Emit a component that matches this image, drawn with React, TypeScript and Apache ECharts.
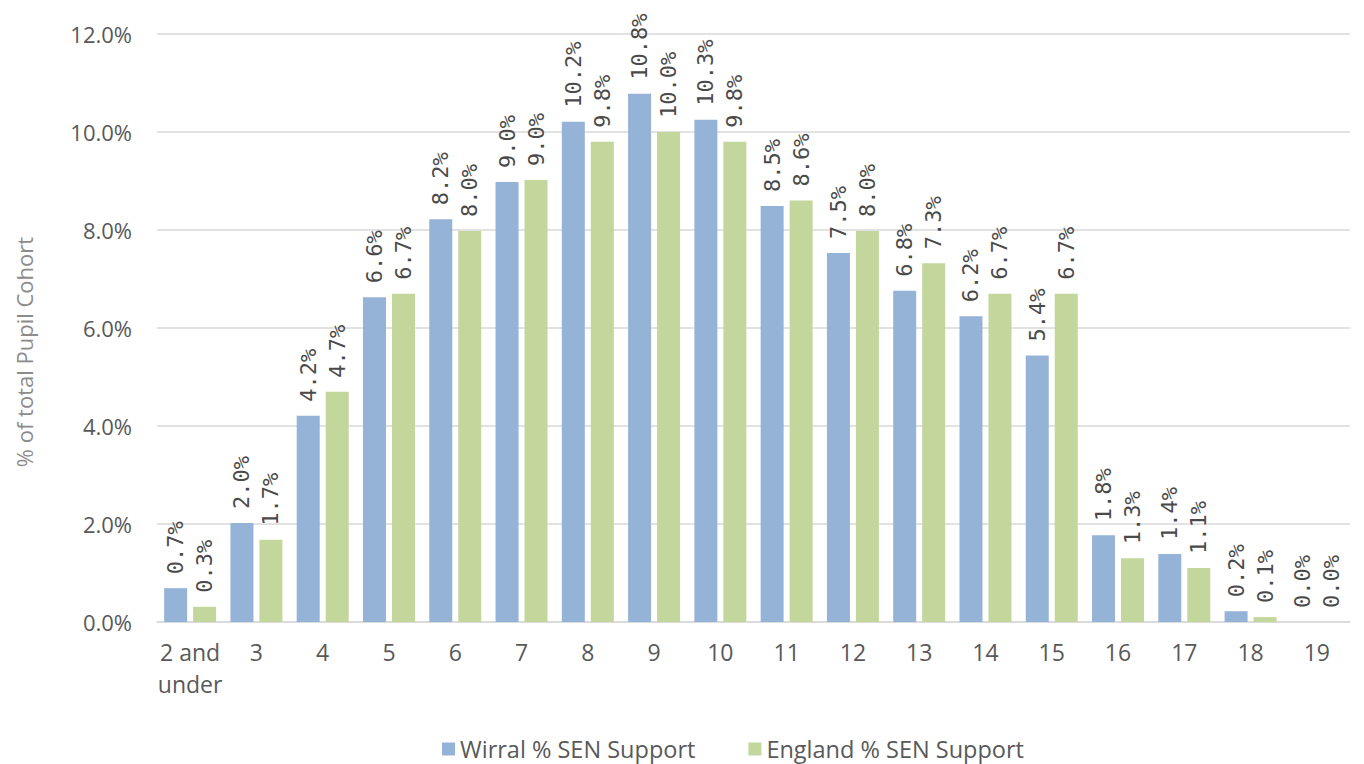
import React, { useEffect, useRef } from "react";
import * as echarts from "echarts";

const categories = ["2 and under", "3", "4", "5", "6", "7", "8", "9", "10", "11", "12", "13", "14", "15", "16", "17", "18", "19"];
const wirral = [0.69, 2.02, 4.21, 6.63, 8.22, 8.98, 10.21, 10.78, 10.25, 8.49, 7.53, 6.76, 6.24, 5.44, 1.77, 1.39, 0.22, 0.0];
const england = [0.31, 1.68, 4.7, 6.7, 7.98, 9.02, 9.8, 10.0, 9.8, 8.6, 7.98, 7.32, 6.7, 6.7, 1.3, 1.1, 0.1, 0.0];
const seriesNames = ["Wirral % SEN Support", "England % SEN Support"];
const yAxisTitle = "% of total Pupil Cohort";

const FONT = "'Open Sans', 'Noto Sans', sans-serif";
const MONO = "'DejaVu Sans Mono', monospace";

export default function App() {
  const ref = useRef<HTMLDivElement>(null);
  useEffect(() => {
    if (!ref.current) return;
    const chart = echarts.init(ref.current, undefined, { renderer: "svg" });
    const label = {
      show: true,
      position: "top",
      rotate: 90,
      align: "left",
      verticalAlign: "middle",
      distance: 14,
      fontFamily: MONO,
      fontSize: 22,
      color: "#4a4a4a",
      formatter: (p: any) => Number(p.value).toFixed(1) + "%",
    };
    chart.setOption({
      animation: false,
      grid: { left: 149, right: 6, top: 26, bottom: 142, containLabel: false },
      legend: {
        top: 724,
        left: 429,
        itemWidth: 13,
        itemHeight: 13,
        itemGap: 53,
        icon: "rect",
        textStyle: { fontFamily: FONT, fontSize: 23.5, color: "#595959" },
        data: seriesNames,
      },
      graphic: [
        {
          type: "text",
          x: 16,
          y: 344,
          rotation: Math.PI / 2,
          style: {
            text: yAxisTitle,
            fontFamily: FONT,
            fontSize: 22,
            fill: "#8c8c8c",
            align: "center",
            verticalAlign: "middle",
          },
        },
      ],
      xAxis: {
        type: "category",
        data: categories,
        axisLine: { lineStyle: { color: "#d9d9d9", width: 1.5 } },
        axisTick: { show: false },
        axisLabel: {
          interval: 0,
          fontFamily: FONT,
          fontSize: 23,
          color: "#595959",
          margin: 14,
          lineHeight: 32,
          formatter: (v: string) => v.replace(" and ", " and\n"),
        },
      },
      yAxis: {
        type: "value",
        min: 0,
        max: 12,
        interval: 2,
        axisLine: { show: false },
        axisTick: { show: false },
        splitLine: { lineStyle: { color: "#d9d9d9", width: 1.5 } },
        axisLabel: {
          fontFamily: FONT,
          fontSize: 22,
          color: "#595959",
          margin: 25,
          formatter: (v: number) => v.toFixed(1) + "%",
        },
      },
      series: [
        {
          name: seriesNames[0],
          type: "bar",
          data: wirral,
          barWidth: 23,
          barGap: "26%",
          itemStyle: { color: "#95b3d7" },
          label,
        },
        {
          name: seriesNames[1],
          type: "bar",
          data: england,
          barWidth: 23,
          barGap: "26%",
          itemStyle: { color: "#c3d69b" },
          label,
        },
      ],
    });
    return () => chart.dispose();
  }, []);
  return <div ref={ref} style={{ width: 1348, height: 756 }} />;
}
